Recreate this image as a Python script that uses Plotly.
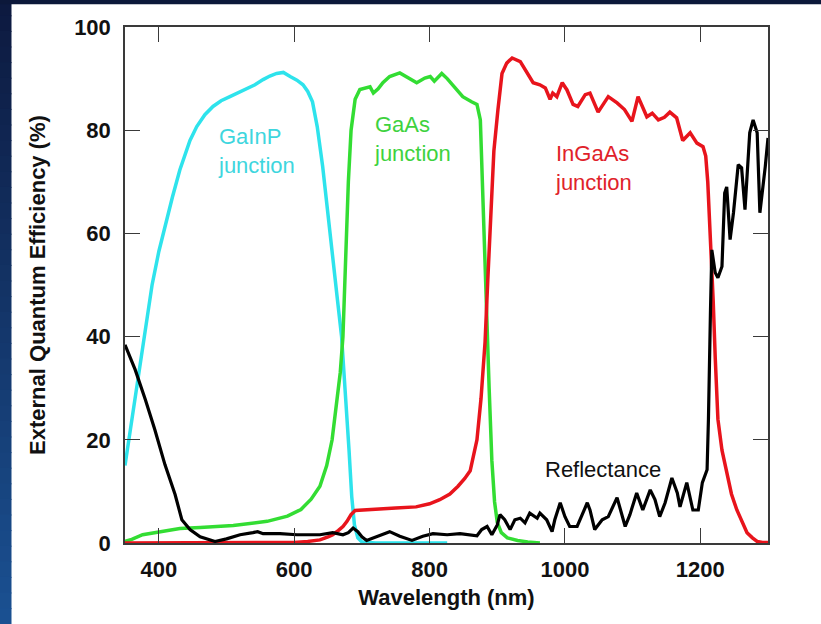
import plotly.graph_objects as go

# ---------------- data ----------------
gainp_wl = [350, 360, 370, 380, 390, 400, 410, 420, 431, 446, 456, 468, 480, 492, 505, 518, 530,
            542, 554, 564, 574, 584, 594, 604, 613, 620, 627, 634, 642, 650, 657, 664, 670, 676,
            681, 685, 689, 694, 700, 720, 760, 800, 826]
gainp_qe = [15, 24, 33, 42, 50, 56.5, 62, 67, 72.3, 78, 80.7, 83, 84.6, 85.7, 86.5, 87.3, 88.2,
            88.8, 89.8, 90.5, 91, 91.2, 90.4, 89.7, 88.8, 87.5, 85.5, 80.7, 73, 64, 56, 47, 40, 29,
            18, 9, 3.5, 1, 0.2, 0, 0, 0, 0]

gaas_wl = [350, 360, 376, 402, 431, 461, 510, 560, 590, 610, 625, 638, 648, 656, 663, 668, 672,
           676, 680, 684, 690, 697, 705, 712, 717, 724, 731, 741, 756, 766, 781, 793, 801, 807,
           818, 826, 838, 849, 862, 870, 875, 878, 881, 884, 888, 892, 896, 900, 906, 915, 930,
           945, 963]
gaas_qe = [0.3, 0.7, 1.6, 2.2, 2.8, 3.0, 3.4, 4.2, 5.2, 6.5, 8.5, 11, 15, 20, 27, 33, 40,
           55, 70, 80, 86, 87.9, 88.2, 88.4, 87.2, 88, 89.2, 90.4, 91.1, 90.4, 89.2, 90.1, 90.4, 89.5,
           91, 90, 88.2, 86.5, 85.5, 85, 82, 70, 55, 42, 30, 16, 8, 4, 2, 1, 0.5,
           0.2, 0]

ingaas_wl = [350, 400, 500, 600, 620, 638, 650, 657, 665, 672, 678, 684, 690, 700, 720, 750, 780,
             800, 815, 830, 842, 852, 860, 870, 876, 882, 886, 891, 895, 901, 907, 914, 922, 934,
             944, 953, 963, 971, 978, 982, 988, 996, 1003, 1012, 1019, 1030, 1037, 1049, 1064, 1077,
             1088, 1099, 1108, 1121, 1129, 1138, 1147, 1155, 1165, 1174, 1185, 1195, 1204, 1208,
             1211, 1214, 1217, 1219, 1222, 1226, 1232, 1239, 1246, 1254, 1262, 1269, 1277, 1284,
             1292, 1300]
ingaas_qe = [0, 0, 0, 0.1, 0.3, 0.6, 1.2, 1.6, 2.4, 3.2, 4.2, 5.5, 6.3, 6.4, 6.6, 6.8, 7.0,
             7.6, 8.4, 9.5, 11, 12.5, 14, 20, 28, 39, 51, 64.5, 76, 84, 91, 93, 94, 93.3,
             91, 89.2, 88.8, 88.2, 86, 87.2, 86.5, 89.2, 87.8, 85, 84.6, 86.9, 87.2, 83.5, 86.5, 85.3,
             84, 81.7, 86.5, 82.6, 83.3, 82, 82.5, 83.5, 82.4, 78, 79.5, 77.5, 76.8, 75,
             70, 62, 54, 47, 36, 24, 18, 14, 9.5, 6.4, 4, 2, 1, 0.3,
             0.1, 0.1]

refl_wl = [350, 365, 380, 394, 409, 424, 434, 446, 461, 483, 500, 520, 539, 546, 554, 579, 604,
           638, 657, 672, 680, 687, 694, 700, 707, 722, 741, 756, 774, 790, 805, 826, 845, 870,
           877, 885, 892, 900, 904, 911, 919, 926, 934, 941, 948, 959, 963, 973, 981, 985, 993,
           1000, 1007, 1018, 1022, 1033, 1037, 1044, 1055, 1064, 1077, 1081, 1089, 1096, 1106,
           1115, 1126, 1133, 1140, 1148, 1158, 1166, 1170, 1180, 1189, 1197, 1203, 1210, 1212,
           1215, 1217, 1222, 1226, 1232, 1236, 1239, 1244, 1249, 1256, 1261, 1266, 1273, 1278,
           1284, 1288, 1296, 1300]
refl_val = [38.4, 33.6, 27.8, 22, 15.2, 9.4, 4.5, 2.6, 1.2, 0.3, 0.8, 1.6, 2.0, 2.2, 1.8, 1.8, 1.6,
            1.6, 2.0, 1.6, 2.0, 2.9, 2.2, 1.2, 0.5, 1.3, 2.2, 1.3, 0.5, 1.3, 1.8, 1.6, 1.8, 1.4,
            2.6, 3.2, 1.6, 3.5, 5.5, 4.5, 2.6, 4.5, 4.8, 3.9, 5.8, 4.8, 5.8, 4.5, 2.2, 4.5, 7.8,
            5.1, 3.2, 3.2, 4.5, 7.8, 6.4, 2.6, 4.5, 5.1, 8.8, 7.0, 3.2, 5.5, 9.7,
            6.4, 10.3, 8.4, 5.1, 7.8, 12.6, 9.7, 7.0, 11.7, 6.4, 6.4, 11.7, 14.2, 24,
            45, 56.8, 52.4, 51.4, 53.6, 67.8, 69, 58.8, 64, 73.3, 72.7, 64.6, 79.5, 82,
            79.5, 64, 73, 78.5]

x_ticks = [400, 600, 800, 1000, 1200]
y_ticks = [0, 20, 40, 60, 80, 100]

# ---------------- styling ----------------
FONT = "Liberation Sans, Arial, Helvetica, sans-serif"
CYAN, GREEN, RED, BLACK = "#2EE3EC", "#33DD33", "#E8141C", "#000000"

fig = go.Figure()
for wl, val, col, w, name in [
    (gainp_wl, gainp_qe, CYAN, 3.5, "GaInP"),
    (gaas_wl, gaas_qe, GREEN, 3.5, "GaAs"),
    (ingaas_wl, ingaas_qe, RED, 3.5, "InGaAs"),
    (refl_wl, refl_val, BLACK, 3.2, "Reflectance"),
]:
    fig.add_trace(go.Scatter(x=wl, y=val, mode="lines", name=name,
                             line=dict(color=col, width=w), cliponaxis=True,
                             hoverinfo="x+y+name"))

# curve labels (two-line labels wrapped with <br>)
labels = [
    ("GaInP<br>junction", 484.5, 76.0, "#3ED6DE"),
    ("GaAs<br>junction", 715.4, 78.2, "#3ED23E"),
    ("InGaAs<br>junction", 982.8, 72.6, "#E0222A"),
    ("Reflectance", 968, 14.3, "#111111"),
]
for txt, x, y, col in labels:
    fig.add_annotation(x=x, y=y, xref="x", yref="y", text=txt, showarrow=False,
                       xanchor="left", yanchor="middle", align="left",
                       font=dict(family=FONT, size=22, color=col))

# decorative page border (dark-blue bands at top and left)
PX_L, PX_R, PX_T, PX_B = 125, 768, 27.3, 543.3
def px2paper_x(px):
    return (px - PX_L) / (PX_R - PX_L)
def px2paper_y(py):
    return (PX_B - py) / (PX_B - PX_T)

shapes = []
n = 40
c0, c1 = (13, 26, 64), (26, 80, 145)
for i in range(n):
    t = i / (n - 1)
    col = "rgb(%d,%d,%d)" % tuple(round(a + (b - a) * t) for a, b in zip(c0, c1))
    py0 = 624 * i / n
    py1 = 624 * (i + 1) / n + 1
    shapes.append(dict(type="rect", xref="paper", yref="paper",
                       x0=px2paper_x(-5), x1=px2paper_x(11.5),
                       y0=px2paper_y(py1), y1=px2paper_y(py0),
                       fillcolor=col, line=dict(width=0), layer="below"))
shapes.append(dict(type="rect", xref="paper", yref="paper",
                   x0=px2paper_x(-5), x1=px2paper_x(830),
                   y0=px2paper_y(4.5), y1=px2paper_y(-5),
                   fillcolor="rgb(12,24,58)", line=dict(width=0), layer="below"))

axis_common = dict(
    showgrid=False, zeroline=False, showline=True, linecolor="#3a3a3a", linewidth=1.5,
    mirror="ticks", ticks="inside", ticklen=15, tickwidth=1.3, tickcolor="#3a3a3a",
    tickfont=dict(family=FONT, size=22, color="#111111", weight="bold"),
)

fig.update_layout(
    width=821, height=624,
    margin=dict(l=125, r=821 - 768, t=27, b=624 - 543),
    paper_bgcolor="white", plot_bgcolor="white",
    showlegend=False,
    shapes=shapes,
    xaxis=dict(range=[350, 1300], tickvals=x_ticks, ticktext=[str(v) for v in x_ticks],
               ticklabelstandoff=6,
               title=dict(text="Wavelength (nm)", standoff=8,
                          font=dict(family=FONT, size=22, color="#111111", weight="bold")),
               **axis_common),
    yaxis=dict(range=[0, 100], tickvals=y_ticks, ticktext=[str(v) for v in y_ticks],
               ticklabelstandoff=8,
               title=dict(text="External Quantum Efficiency (%)", standoff=22,
                          font=dict(family=FONT, size=22, color="#111111", weight="bold")),
               **axis_common),
)

fig.write_html("out.html")
